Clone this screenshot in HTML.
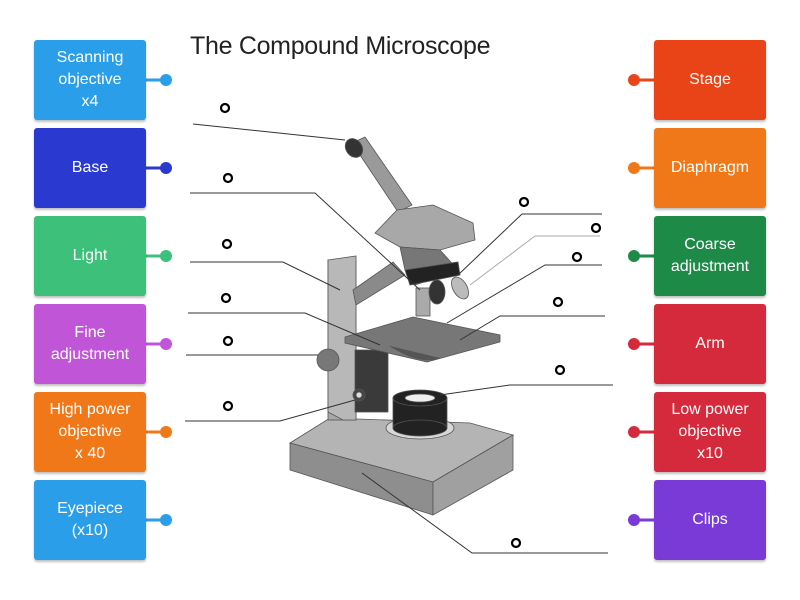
<!DOCTYPE html>
<html><head><style>
body{margin:0;width:800px;height:600px;background:#fff;position:relative;overflow:hidden;font-family:"Liberation Sans",sans-serif}
.b{position:absolute;width:112px;height:80px;border-radius:3px;color:#fff;font-size:16px;line-height:22px;display:flex;align-items:center;justify-content:center;text-align:center;box-shadow:0 2px 2px rgba(0,0,0,.25)}
.t{position:absolute;left:190px;top:32px;font-size:25px;color:#222;letter-spacing:-0.3px}
</style></head><body>
<div class="t">The Compound Microscope</div>
<svg width="800" height="600" style="position:absolute;left:0;top:0">
<g stroke-width="3">
<line x1="146" y1="80" x2="166" y2="80" stroke="#2a9ee8"/><circle cx="166" cy="80" r="6" fill="#2a9ee8"/>
<line x1="146" y1="168" x2="166" y2="168" stroke="#2a3ad0"/><circle cx="166" cy="168" r="6" fill="#2a3ad0"/>
<line x1="146" y1="256" x2="166" y2="256" stroke="#3cc07a"/><circle cx="166" cy="256" r="6" fill="#3cc07a"/>
<line x1="146" y1="344" x2="166" y2="344" stroke="#c055d8"/><circle cx="166" cy="344" r="6" fill="#c055d8"/>
<line x1="146" y1="432" x2="166" y2="432" stroke="#f07818"/><circle cx="166" cy="432" r="6" fill="#f07818"/>
<line x1="146" y1="520" x2="166" y2="520" stroke="#2a9ee8"/><circle cx="166" cy="520" r="6" fill="#2a9ee8"/>
<line x1="654" y1="80" x2="634" y2="80" stroke="#e84418"/><circle cx="634" cy="80" r="6" fill="#e84418"/>
<line x1="654" y1="168" x2="634" y2="168" stroke="#f07818"/><circle cx="634" cy="168" r="6" fill="#f07818"/>
<line x1="654" y1="256" x2="634" y2="256" stroke="#1e8a48"/><circle cx="634" cy="256" r="6" fill="#1e8a48"/>
<line x1="654" y1="344" x2="634" y2="344" stroke="#d42a3c"/><circle cx="634" cy="344" r="6" fill="#d42a3c"/>
<line x1="654" y1="432" x2="634" y2="432" stroke="#d42a3c"/><circle cx="634" cy="432" r="6" fill="#d42a3c"/>
<line x1="654" y1="520" x2="634" y2="520" stroke="#7a3ad8"/><circle cx="634" cy="520" r="6" fill="#7a3ad8"/>
</g>
<!-- microscope -->
<g stroke="#555" stroke-width="0.8">
<polygon points="290,443 330,418 470,423 513,435 433,482" fill="#b4b4b4"/>
<polygon points="290,443 433,482 433,515 290,470" fill="#8e8e8e"/>
<polygon points="433,482 513,435 513,470 433,515" fill="#a0a0a0"/>
<ellipse cx="420" cy="428" rx="34" ry="11" fill="#d8d8d8"/>
<rect x="328" y="260" width="28" height="160" fill="#a8a8a8"/>
<polygon points="328,260 356,256 356,420 343,420 328,412" fill="#b8b8b8"/>
<polygon points="353,290 393,262 405,275 356,305" fill="#8a8a8a"/>
<rect x="355" y="350" width="33" height="62" fill="#3a3a3a"/>
<circle cx="359" cy="395" r="6" fill="#444"/><circle cx="359" cy="395" r="3" fill="#ddd"/>
<polygon points="352,143 365,137 412,205 398,212" fill="#9a9a9a"/>
<ellipse cx="354" cy="148" rx="8" ry="10" fill="#333" transform="rotate(-35 354 148)"/>
<polygon points="375,233 397,210 433,205 473,223 475,240 440,250 400,247" fill="#a8a8a8"/>
<polygon points="400,247 440,250 458,270 415,285 405,270" fill="#777"/>
<polygon points="405,270 458,262 460,275 410,285" fill="#222"/>
<rect x="416" y="288" width="14" height="28" fill="#aaa"/>
<ellipse cx="437" cy="292" rx="8" ry="12" fill="#333"/>
<ellipse cx="460" cy="288" rx="7" ry="12" fill="#bbb" transform="rotate(-30 460 288)"/>
<polygon points="345,337 413,317 500,335 500,342 427,362 345,343" fill="#777"/>
<path d="M390,346 Q420,365 440,358" fill="#555"/>
<circle cx="328" cy="360" r="11" fill="#777"/>
<rect x="393" y="398" width="54" height="30" fill="#222"/>
<ellipse cx="420" cy="428" rx="27" ry="8" fill="#222"/>
<ellipse cx="420" cy="398" rx="27" ry="8" fill="#222"/>
<ellipse cx="420" cy="398" rx="15" ry="4" fill="#eee"/>
</g>
<g stroke="#333" stroke-width="1" fill="none">
<polyline points="193,124 345,140"/>
<polyline points="190,193 315,193 420,290"/>
<polyline points="190,262 283,262 340,290"/>
<polyline points="188,313 305,313 380,345"/>
<polyline points="186,355 318,355"/>
<polyline points="185,421 280,421 355,400"/>
<polyline points="602,214 522,214 458,275"/>
<polyline points="600,236 535,236 470,285" stroke="#aaa"/>
<polyline points="602,265 545,265 447,323"/>
<polyline points="605,316 500,316 460,340"/>
<polyline points="613,385 510,385 440,395"/>
<polyline points="608,553 472,553 362,473"/>
</g>
<g stroke="#000" stroke-width="2.2" fill="none">
<circle cx="225" cy="108" r="4"/><circle cx="228" cy="178" r="4"/><circle cx="227" cy="244" r="4"/>
<circle cx="226" cy="298" r="4"/><circle cx="228" cy="341" r="4"/><circle cx="228" cy="406" r="4"/>
<circle cx="524" cy="202" r="4"/><circle cx="596" cy="228" r="4"/><circle cx="577" cy="257" r="4"/>
<circle cx="558" cy="302" r="4"/><circle cx="560" cy="370" r="4"/><circle cx="516" cy="543" r="4"/>
</g>
</svg>
<div class="b" style="left:34px;top:40px;background:#2a9ee8">Scanning<br>objective<br>x4</div>
<div class="b" style="left:34px;top:128px;background:#2a3ad0">Base</div>
<div class="b" style="left:34px;top:216px;background:#3cc07a">Light</div>
<div class="b" style="left:34px;top:304px;background:#c055d8">Fine<br>adjustment</div>
<div class="b" style="left:34px;top:392px;background:#f07818">High power<br>objective<br>x 40</div>
<div class="b" style="left:34px;top:480px;background:#2a9ee8">Eyepiece<br>(x10)</div>
<div class="b" style="left:654px;top:40px;background:#e84418">Stage</div>
<div class="b" style="left:654px;top:128px;background:#f07818">Diaphragm</div>
<div class="b" style="left:654px;top:216px;background:#1e8a48">Coarse<br>adjustment</div>
<div class="b" style="left:654px;top:304px;background:#d42a3c">Arm</div>
<div class="b" style="left:654px;top:392px;background:#d42a3c">Low power<br>objective<br>x10</div>
<div class="b" style="left:654px;top:480px;background:#7a3ad8">Clips</div>
</body></html>
